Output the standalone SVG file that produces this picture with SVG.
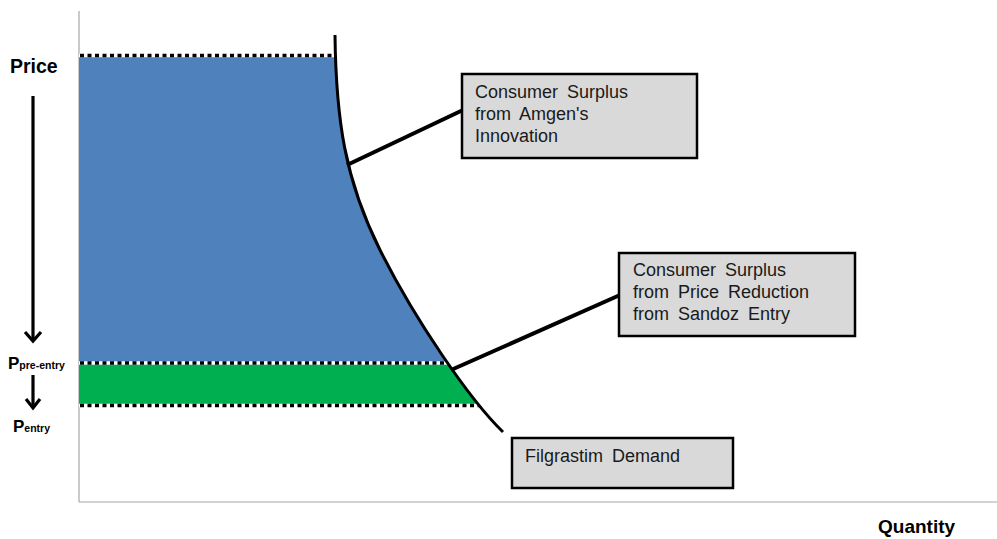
<svg xmlns="http://www.w3.org/2000/svg" width="997" height="539" viewBox="0 0 997 539">
  <style>
    .box { fill: #d9d9d9; stroke: #000; stroke-width: 2.5; }
    .lbl { font-family: "Liberation Sans", Arial, sans-serif; font-size: 18px; fill: #1a1a1a; word-spacing: 4px; }
    .ax { font-family: "Liberation Sans", Arial, sans-serif; font-weight: bold; fill: #000; }
    .conn { stroke: #000; stroke-width: 4; fill: none; }
    .dotbg { stroke: #fff; stroke-width: 3.5; }
    .dot { stroke: #000; stroke-width: 3.5; stroke-dasharray: 4 3.5; }
    .axis { stroke: #a6a6a6; stroke-width: 1.2; fill: none; }
    .arrow { stroke: #000; stroke-width: 3.2; fill: none; }
  </style>
  <defs>
    <clipPath id="underCurve">
      <path d="M79,30 L335,30 L335,35 C336,120 345,180 380,250 S470,400 503,432 L79,432 Z"/>
    </clipPath>
  </defs>
  <rect width="997" height="539" fill="#fff"/>

  <g id="axes">
    <line class="axis" x1="79" y1="11" x2="79" y2="502"/>
    <line class="axis" x1="79" y1="502" x2="997" y2="502"/>
  </g>

  <g id="areas" clip-path="url(#underCurve)">
    <rect x="79" y="57" width="500" height="305" fill="#4f81bd"/>
    <rect x="79" y="364" width="500" height="41" fill="#00b050"/>
    <line class="dotbg" x1="79" y1="55.5" x2="600" y2="55.5"/>
    <line class="dot" x1="80" y1="55.5" x2="600" y2="55.5"/>
    <line class="dotbg" x1="79" y1="363" x2="600" y2="363"/>
    <line class="dot" x1="80" y1="363" x2="600" y2="363"/>
    <line class="dotbg" x1="79" y1="405.5" x2="600" y2="405.5"/>
    <line class="dot" x1="80" y1="405.5" x2="600" y2="405.5"/>
  </g>

  <g id="demand-curve">
    <path d="M335,35 C336,120 345,180 380,250 S470,400 503,432" fill="none" stroke="#000" stroke-width="3"/>
  </g>

  <g id="connectors">
    <line class="conn" x1="347" y1="165" x2="463" y2="110"/>
    <line class="conn" x1="451" y1="370" x2="620" y2="295"/>
  </g>

  <g id="box-amgen">
    <rect class="box" x="462" y="74" width="235" height="84"/>
    <text class="lbl" x="475" y="98">Consumer Surplus</text>
    <text class="lbl" x="475" y="120">from Amgen's</text>
    <text class="lbl" x="475" y="142">Innovation</text>
  </g>

  <g id="box-sandoz">
    <rect class="box" x="619" y="253" width="236" height="83"/>
    <text class="lbl" x="633" y="276">Consumer Surplus</text>
    <text class="lbl" x="633" y="298">from Price Reduction</text>
    <text class="lbl" x="633" y="320">from Sandoz Entry</text>
  </g>

  <g id="box-demand">
    <rect class="box" x="512" y="438" width="221" height="50"/>
    <text class="lbl" x="525" y="462">Filgrastim Demand</text>
  </g>

  <g id="price-label">
    <text class="ax" x="10" y="73" font-size="19.5">Price</text>
    <line class="arrow" x1="33" y1="96" x2="33" y2="340"/>
    <polyline class="arrow" points="25,332 33,341 41,332"/>
  </g>

  <g id="pre-entry-label">
    <text class="ax" x="8" y="369" font-size="17">P<tspan font-size="10.5">pre-entry</tspan></text>
    <line class="arrow" x1="33" y1="375" x2="33" y2="408"/>
    <polyline class="arrow" points="26,399 33,408 40,399"/>
  </g>

  <g id="entry-label">
    <text class="ax" x="13" y="432" font-size="17">P<tspan font-size="10.5">entry</tspan></text>
  </g>

  <g id="quantity-label">
    <text class="ax" x="878" y="533" font-size="19">Quantity</text>
  </g>
</svg>
